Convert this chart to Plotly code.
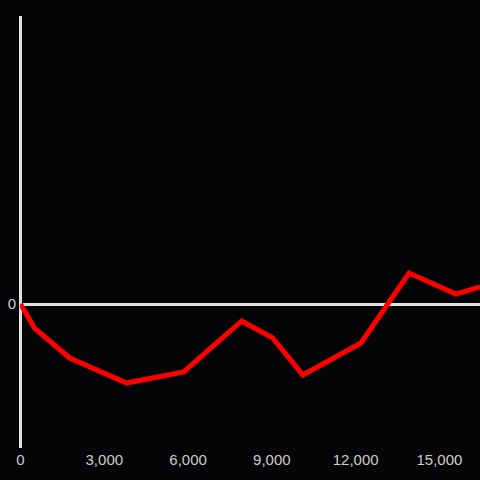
import plotly.graph_objects as go

x_values = [0, 500, 1760, 3800, 5840, 7920, 9030, 10110, 12190, 13910, 15590, 16450]
y_values = [0, -0.167, -0.375, -0.549, -0.472, -0.118, -0.236, -0.493, -0.271, 0.215, 0.069, 0.118]
x_tick_vals = [0, 3000, 6000, 9000, 12000, 15000]
x_tick_text = ["0", "3,000", "6,000", "9,000", "12,000", "15,000"]

fig = go.Figure()
fig.add_trace(go.Scatter(x=x_values, y=y_values, mode="lines",
                         line=dict(color="#ff0000", width=5), showlegend=False))

axis_color = "#e0e0e0"
fig.update_layout(
    width=480, height=480,
    paper_bgcolor="#050407", plot_bgcolor="#050407",
    margin=dict(l=20, r=0, t=16, b=32),
    font=dict(family="Liberation Sans, Arial, sans-serif", size=15, color="#cccccc"),
    xaxis=dict(range=[-18, 16452], tickvals=x_tick_vals, ticktext=x_tick_text,
               showgrid=False, zeroline=True, zerolinecolor=axis_color, zerolinewidth=3,
               showline=False, ticks="", automargin=False, ticklabelstandoff=1),
    yaxis=dict(range=[-1, 2], tickvals=[0], ticktext=["0"], showgrid=False,
               zeroline=True, zerolinecolor=axis_color, zerolinewidth=3,
               showline=False, ticks="", automargin=False, ticklabelstandoff=3),
)
fig.write_html("out.html", config={"displayModeBar": False},
               post_script="document.body.style.margin='0';document.body.style.background='#050407';")
